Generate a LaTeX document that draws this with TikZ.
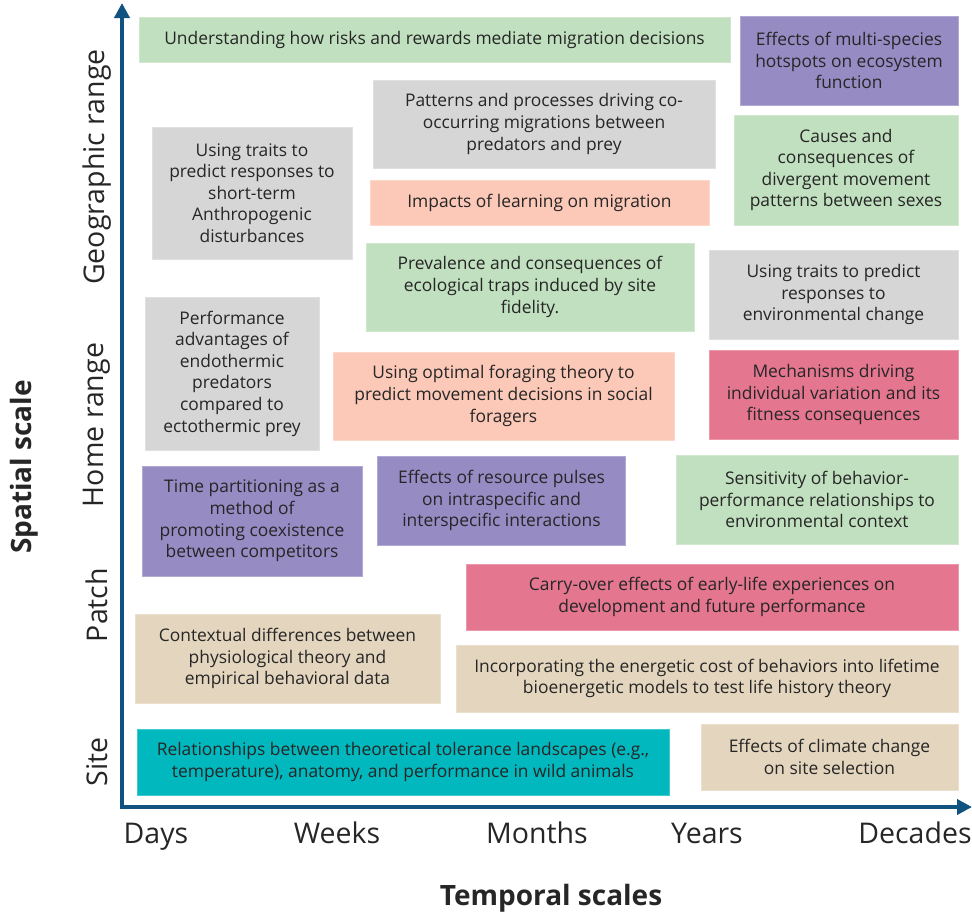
\documentclass[tikz,border=0pt]{standalone}
\usepackage{fontspec}
\setmainfont{Open Sans}
\usepackage{tikz}
\usetikzlibrary{arrows.meta}
\definecolor{axisblue}{RGB}{16,82,128}
\definecolor{inkgray}{RGB}{38,38,38}
\definecolor{leafgreen}{RGB}{193,224,191}
\definecolor{lavender}{RGB}{151,139,196}
\definecolor{stone}{RGB}{214,214,214}
\definecolor{salmon}{RGB}{252,201,184}
\definecolor{rosered}{RGB}{229,118,143}
\definecolor{sand}{RGB}{228,214,190}
\definecolor{lagoon}{RGB}{0,184,190}
\tikzset{%
    topic/.style={%
        fill=#1, draw=#1!75!white, line width=0.6pt,
        align=center, inner sep=0pt, text=inkgray,
        font=\fontsize{17.4}{21.6}\selectfont
    },
    scalelabel/.style={text=inkgray, font=\fontsize{28.5}{32}\selectfont},
    axistitle/.style={text=inkgray, font=\fontsize{28}{32}\selectfont\bfseries}
}

\begin{document}
\begin{tikzpicture}[x=1pt,y=-1pt]
    \useasboundingbox (0,0) rectangle (972,914);
    \coordinate (origin) at (122,807);
    \coordinate (ytip) at (122,3);
    \coordinate (xtip) at (972,807);
    \draw[{Triangle[length=15pt,width=15pt]}-{Triangle[length=15pt,width=15pt]},line width=4pt,axisblue,line join=miter] (ytip)--(origin)--(xtip);

    \node[topic=leafgreen, minimum width=591pt, minimum height=45pt] (risks) at (434.5,39.5) {Understanding how risks and rewards mediate migration decisions};
    \node[topic=lavender, minimum width=218pt, minimum height=89pt] (hotspots) at (849,60.5) {Effects of multi-species\\hotspots on ecosystem\\function};
    \node[topic=stone, minimum width=342pt, minimum height=88pt] (cooccur) at (544,124) {Patterns and processes driving co-\\occurring migrations between\\predators and prey};
    \node[topic=stone, minimum width=200pt, minimum height=132pt] (shortterm) at (252,193) {Using traits to\\predict responses to\\short-term\\Anthropogenic\\disturbances};
    \node[topic=salmon, minimum width=339pt, minimum height=45pt] (learning) at (539.5,202.5) {Impacts of learning on migration};
    \node[topic=leafgreen, minimum width=224pt, minimum height=110pt] (sexes) at (846,170) {Causes and\\consequences of\\divergent movement\\patterns between sexes};
    \node[topic=leafgreen, minimum width=328pt, minimum height=88pt] (traps) at (530,287) {Prevalence and consequences of\\ecological traps induced by site\\fidelity.};
    \node[topic=stone, minimum width=249pt, minimum height=89pt] (envchange) at (833.5,294.5) {Using traits to predict\\responses to\\environmental change};
    \node[topic=stone, minimum width=174pt, minimum height=153pt] (endotherm) at (232,373.5) {Performance\\advantages of\\endothermic\\predators\\compared to\\ectothermic prey};
    \node[topic=salmon, minimum width=341pt, minimum height=88pt] (foraging) at (503.5,396) {Using optimal foraging theory to\\predict movement decisions in social\\foragers};
    \node[topic=rosered, minimum width=249pt, minimum height=89pt] (individual) at (833.5,394.5) {Mechanisms driving\\individual variation and its\\fitness consequences};
    \node[topic=lavender, minimum width=220pt, minimum height=110pt] (partition) at (252,521) {Time partitioning as a\\method of\\promoting coexistence\\between competitors};
    \node[topic=lavender, minimum width=248pt, minimum height=89pt] (pulses) at (501.5,500.5) {Effects of resource pulses\\on intraspecific and\\interspecific interactions};
    \node[topic=leafgreen, minimum width=282pt, minimum height=89pt] (sensitivity) at (817,499.5) {Sensitivity of behavior-\\performance relationships to\\environmental context};
    \node[topic=rosered, minimum width=492pt, minimum height=66pt] (carryover) at (712,597) {Carry-over effects of early-life experiences on\\development and future performance};
    \node[topic=sand, minimum width=305pt, minimum height=89pt] (contextual) at (287.5,658.5) {Contextual differences between\\physiological theory and\\empirical behavioral data};
    \node[topic=sand, minimum width=502pt, minimum height=67pt] (bioenergetic) at (707,678.5) {Incorporating the energetic cost of behaviors into lifetime\\bioenergetic models to test life history theory};
    \node[topic=lagoon, minimum width=532pt, minimum height=66pt] (tolerance) at (403,762) {Relationships between theoretical tolerance landscapes (e.g.,\\temperature), anatomy, and performance in wild animals};
    \node[topic=sand, minimum width=257pt, minimum height=66pt] (climate) at (829.5,757) {Effects of climate change\\on site selection};

    \node[scalelabel, rotate=90] (geographic) at (97,167) {Geographic range};
    \node[scalelabel, rotate=90] (homerange) at (97,425) {Home range};
    \node[scalelabel, rotate=90] (patch) at (97,605) {Patch};
    \node[scalelabel, rotate=90] (site) at (97,762) {Site};
    \node[axistitle, rotate=90] (spatial) at (24,467) {Spatial scale};

    \node[scalelabel, anchor=base] (days) at (156,843) {Days};
    \node[scalelabel, anchor=base] (weeks) at (337,843) {Weeks};
    \node[scalelabel, anchor=base] (months) at (537,843) {Months};
    \node[scalelabel, anchor=base] (years) at (707,843) {Years};
    \node[scalelabel, anchor=base] (decades) at (915,843) {Decades};
    \node[axistitle] (temporal) at (551,898) {Temporal scales};
  \end{tikzpicture}
\end{document}
